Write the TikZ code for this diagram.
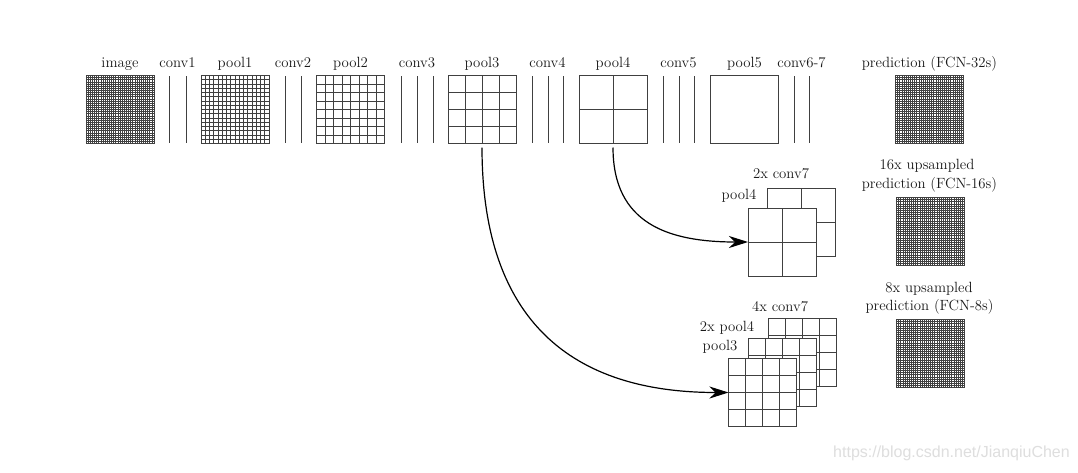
\documentclass[tikz,border=0pt]{standalone}
\usepackage{fontspec}
\newfontfamily\wmfont{Liberation Sans}
\usetikzlibrary{calc,arrows.meta}
\tikzset{
  lbl/.style={font=\fontsize{14.8}{17}\selectfont, text=black!90, inner sep=0pt, anchor=base},
  sq/.style={draw=black!75, line width=0.85pt, fill=white, minimum size=68pt, inner sep=0pt, outer sep=0pt},
  gridsq/.style 2 args={sq, path picture={
     \foreach \k in {1,...,#1} {
       \pgfmathsetmacro\f{\k/(#1+1)}
       \draw[black!75, line width=#2]
         ($(path picture bounding box.north west)!\f!(path picture bounding box.north east)$) --
         ($(path picture bounding box.south west)!\f!(path picture bounding box.south east)$);
       \draw[black!75, line width=#2]
         ($(path picture bounding box.north west)!\f!(path picture bounding box.south west)$) --
         ($(path picture bounding box.north east)!\f!(path picture bounding box.south east)$);
     }}},
  dense/.style={gridsq={31}{0.7pt}},
  convline/.style={draw=black!75, line width=0.85pt},
  arr/.style={draw=black, line width=1.2pt, -{Stealth[length=19pt,width=12pt,inset=6pt]}, shorten <=4pt},
}
\begin{document}
\begin{tikzpicture}[x=1pt,y=-1pt]
\useasboundingbox[fill=white] (0,0) rectangle (1078,472);

% top row
\node[dense] (image) at (120,109.5) {};
\foreach \x in {169,186} \draw[convline] (\x,76) -- (\x,143);
\node[gridsq={15}{0.85pt}] (pool1) at (235,109.5) {};
\foreach \x in {285,301} \draw[convline] (\x,76) -- (\x,143);
\node[gridsq={7}{0.85pt}] (pool2) at (350.5,109.5) {};
\foreach \x in {401,417,433} \draw[convline] (\x,76) -- (\x,143);
\node[gridsq={3}{0.85pt}] (pool3) at (482,109.5) {};
\foreach \x in {532,548,563} \draw[convline] (\x,76) -- (\x,143);
\node[gridsq={1}{0.85pt}] (pool4) at (613,109.5) {};
\foreach \x in {663,679,694} \draw[convline] (\x,76) -- (\x,143);
\node[sq] (pool5) at (744.5,109.5) {};
\foreach \x in {794,809} \draw[convline] (\x,76) -- (\x,143);
\node[dense] (pred32) at (929.5,109.5) {};

% top labels
\node[lbl] (limage) at (120,67) {image};
\node[lbl] (lconv1) at (177.5,67) {conv1};
\node[lbl] (lpool1) at (235,67) {pool1};
\node[lbl] (lconv2) at (293,67) {conv2};
\node[lbl] (lpool2) at (350.5,67) {pool2};
\node[lbl] (lconv3) at (417,67) {conv3};
\node[lbl] (lpool3) at (482,67) {pool3};
\node[lbl] (lconv4) at (547.5,67) {conv4};
\node[lbl] (lpool4) at (613,67) {pool4};
\node[lbl] (lconv5) at (678.5,67) {conv5};
\node[lbl] (lpool5) at (744.5,67) {pool5};
\node[lbl] (lconv67) at (801.5,67) {conv6-7};
\node[lbl] (lpred32) at (929.5,67) {prediction (FCN-32s)};

% FCN-16s stack
\node[gridsq={1}{0.85pt}] (s2b) at (801.5,222.5) {};
\node[gridsq={1}{0.85pt}] (s2f) at (782,242) {};
\node[lbl] (ls2b) at (781,178) {2x conv7};
\node[lbl] (ls2f) at (739,199) {pool4};

% FCN-8s stack
\node[gridsq={3}{0.85pt}] (s3b) at (802,352.5) {};
\node[gridsq={3}{0.85pt}] (s3m) at (782,372) {};
\node[gridsq={3}{0.85pt}] (s3f) at (762.5,392.5) {};
\node[lbl] (ls3b) at (780,311) {4x conv7};
\node[lbl] (ls3m) at (727,331) {2x pool4};
\node[lbl] (ls3f) at (720,350) {pool3};

% predictions
\node[dense] (pred16) at (930.5,231.5) {};
\node[lbl] (l16a) at (927,169) {16x upsampled};
\node[lbl] (l16b) at (929.5,188) {prediction (FCN-16s)};
\node[dense] (pred8) at (930.5,353.5) {};
\node[lbl] (l8a) at (929,292) {8x upsampled};
\node[lbl] (l8b) at (929.5,310) {prediction (FCN-8s)};

% arrows
\draw[arr] (pool4.south) .. controls +(0,80) and +(-80,0) .. (s2f.west);
\draw[arr] (pool3.south) .. controls +(0,167) and +(-167,0) .. (s3f.west);

% watermark
\node[font=\wmfont\fontsize{16}{18}\selectfont, text=black!13, anchor=base west, inner sep=0pt] (wm) at (833,457) {https://blog.csdn.net/JianqiuChen};
\end{tikzpicture}
\end{document}
